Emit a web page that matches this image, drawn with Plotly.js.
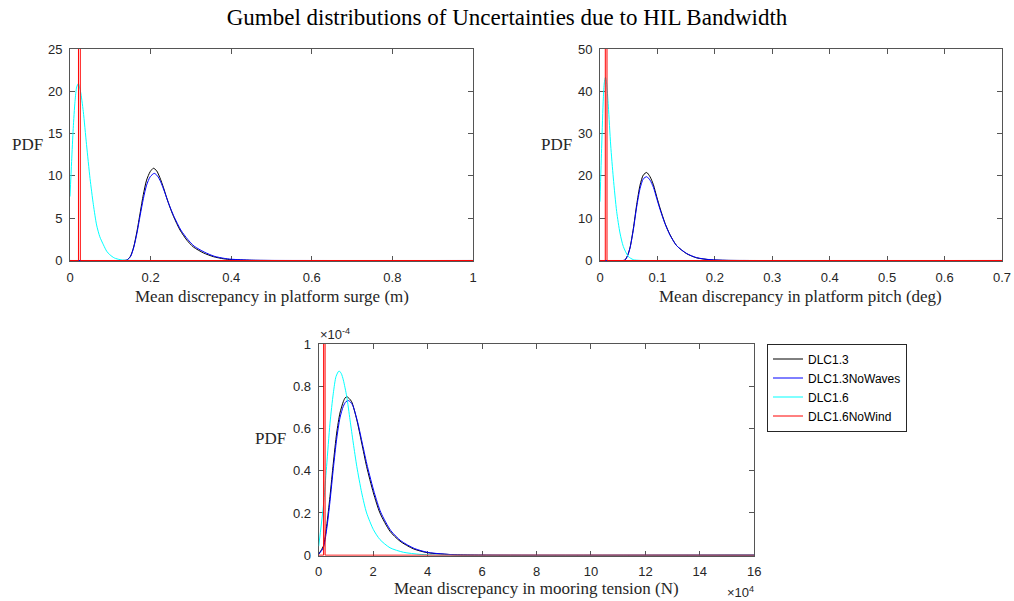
<!DOCTYPE html>
<html>
<head>
<meta charset="utf-8">
<script src="https://cdn.plot.ly/plotly-3.0.1.min.js"></script>
<style>html,body{margin:0;padding:0;background:#fff;}#chart{width:1014px;height:601px;}</style>
</head>
<body>
<div id="chart"></div>
<script>
// ---------- Surge (m) ----------
const surgeX13 = [0, 0.13, 0.141, 0.15, 0.158, 0.166, 0.174, 0.182, 0.190, 0.199, 0.207, 0.215, 0.223, 0.232, 0.240, 0.248, 0.257, 0.273, 0.290, 0.306, 0.331, 0.356, 0.381, 0.40, 0.45, 0.5, 1.0];
const surgeY13 = [0, 0, 0.05, 0.5, 1.6, 3.4, 5.6, 7.8, 9.5, 10.5, 10.9, 10.6, 9.8, 8.6, 7.4, 6.3, 5.2, 3.6, 2.4, 1.6, 0.9, 0.45, 0.2, 0.1, 0.02, 0, 0];
const surgeX13NW = [0, 0.13, 0.141, 0.15, 0.158, 0.166, 0.174, 0.182, 0.190, 0.199, 0.209, 0.217, 0.225, 0.234, 0.242, 0.250, 0.259, 0.275, 0.292, 0.308, 0.333, 0.358, 0.383, 0.40, 0.45, 0.5, 1.0];
const surgeY13NW = [0, 0, 0.05, 0.45, 1.5, 3.2, 5.3, 7.3, 8.9, 9.9, 10.3, 10.0, 9.3, 8.2, 7.1, 6.1, 5.1, 3.6, 2.5, 1.7, 1.0, 0.5, 0.25, 0.15, 0.04, 0.01, 0];
const surgeX16 = [0, 0.004, 0.008, 0.0124, 0.0166, 0.0207, 0.026, 0.033, 0.041, 0.0497, 0.058, 0.066, 0.074, 0.083, 0.091, 0.099, 0.11, 0.124, 0.136, 0.15, 1.0];
const surgeY16 = [7.56, 11.7, 15.6, 18.8, 20.5, 20.9, 20.0, 17.6, 13.7, 9.7, 6.6, 4.2, 2.8, 1.85, 1.1, 0.67, 0.3, 0.1, 0.03, 0.01, 0];
const surgeX16NW = [0, 0.021, 0.0233, 0.0256, 1.0];
const surgeY16NW = [0, 0, 1000, 0, 0];

// ---------- Pitch (deg) ----------
const pitchX13 = [0, 0.04, 0.0435, 0.048, 0.0522, 0.058, 0.0639, 0.0697, 0.0754, 0.0813, 0.0871, 0.093, 0.0987, 0.1045, 0.1132, 0.1219, 0.1335, 0.151, 0.168, 0.1915, 0.22, 0.26, 0.7];
const pitchY13 = [0, 0, 0.1, 1.2, 3.0, 7.5, 13.2, 17.8, 20.2, 20.8, 19.8, 17.9, 15.1, 12.4, 8.8, 6.1, 3.5, 1.6, 0.64, 0.17, 0.03, 0, 0];
const pitchX13NW = [0, 0.04, 0.0435, 0.048, 0.0522, 0.058, 0.0639, 0.0697, 0.0754, 0.0813, 0.0871, 0.093, 0.0987, 0.1045, 0.1132, 0.1219, 0.1335, 0.151, 0.168, 0.1915, 0.22, 0.26, 0.7];
const pitchY13NW = [0, 0, 0.1, 1.1, 2.9, 7.2, 12.7, 17.0, 19.3, 19.8, 19.0, 17.3, 14.7, 12.1, 8.7, 6.0, 3.5, 1.65, 0.68, 0.2, 0.04, 0, 0];
const pitchX16 = [0, 0.003, 0.0058, 0.0075, 0.0095, 0.0115, 0.0145, 0.0186, 0.0232, 0.029, 0.0348, 0.0406, 0.0493, 0.058, 0.07, 0.7];
const pitchY16 = [13.9, 27.3, 38.4, 42.0, 43.3, 42.0, 36.5, 27.3, 19.5, 11.6, 6.5, 3.3, 0.95, 0.2, 0.02, 0];
const pitchX16NW = [0, 0.0092, 0.0107, 0.0122, 0.7];
const pitchY16NW = [0, 0, 2000, 0, 0];

// ---------- Mooring tension (x in 1e4 N, PDF in 1e-4) ----------
const tenX13 = [0, 0.17, 0.29, 0.415, 0.537, 0.66, 0.78, 0.904, 0.97, 1.04, 1.12, 1.21, 1.40, 1.58, 1.76, 2.01, 2.25, 2.62, 2.99, 3.48, 3.99, 5, 6, 16];
const tenY13 = [0.005, 0.0425, 0.137, 0.279, 0.436, 0.578, 0.673, 0.727, 0.745, 0.75, 0.742, 0.727, 0.641, 0.531, 0.42, 0.295, 0.2, 0.113, 0.066, 0.03, 0.012, 0.002, 0, 0];
const tenX13NW = [0, 0.17, 0.29, 0.415, 0.537, 0.66, 0.78, 0.904, 1.0, 1.09, 1.17, 1.25, 1.43, 1.61, 1.79, 2.04, 2.28, 2.65, 3.02, 3.51, 4.02, 5, 6, 16];
const tenY13NW = [0.005, 0.035, 0.12, 0.255, 0.41, 0.55, 0.65, 0.705, 0.727, 0.732, 0.725, 0.71, 0.63, 0.525, 0.42, 0.297, 0.203, 0.116, 0.068, 0.032, 0.013, 0.002, 0, 0];
const tenX16 = [0, 0.17, 0.29, 0.415, 0.537, 0.636, 0.746, 0.83, 0.904, 1.03, 1.15, 1.27, 1.40, 1.58, 1.76, 2.01, 2.25, 2.62, 3.11, 3.72, 4.5, 16];
const tenY16 = [0.0425, 0.231, 0.42, 0.625, 0.767, 0.846, 0.8725, 0.86, 0.83, 0.751, 0.641, 0.531, 0.42, 0.295, 0.2, 0.121, 0.074, 0.035, 0.014, 0.004, 0.0005, 0];
const tenX16NW = [0, 0.18, 0.208, 0.235, 16];
const tenY16NW = [0, 0, 20, 0, 0];

const seriesNames = ['DLC1.3', 'DLC1.3NoWaves', 'DLC1.6', 'DLC1.6NoWind'];
const seriesColors = ['#000000', '#0000ff', '#00ffff', '#ff0000'];

const panels = [
  {xa: 'x', ya: 'y', data: [[surgeX13, surgeY13], [surgeX13NW, surgeY13NW], [surgeX16, surgeY16], [surgeX16NW, surgeY16NW]], legend: false},
  {xa: 'x2', ya: 'y2', data: [[pitchX13, pitchY13], [pitchX13NW, pitchY13NW], [pitchX16, pitchY16], [pitchX16NW, pitchY16NW]], legend: false},
  {xa: 'x3', ya: 'y3', data: [[tenX13, tenY13], [tenX13NW, tenY13NW], [tenX16, tenY16], [tenX16NW, tenY16NW]], legend: true}
];

const traces = [];
panels.forEach(p => {
  p.data.forEach((d, i) => {
    traces.push({
      type: 'scatter', mode: 'lines', x: d[0], y: d[1], xaxis: p.xa, yaxis: p.ya,
      name: seriesNames[i], showlegend: p.legend,
      line: {color: seriesColors[i], width: 1, shape: i === 3 ? 'linear' : 'spline', smoothing: 0.7},
      hoverinfo: 'skip'
    });
  });
});

const W = 1014, H = 601;
const axBase = {
  showgrid: false, zeroline: false, showline: true, linecolor: '#555555', linewidth: 1,
  mirror: 'ticks', ticks: 'inside', ticklen: 5, tickcolor: '#555555', tickwidth: 1,
  tickfont: {family: 'Liberation Sans, Arial, sans-serif', size: 13, color: '#262626'},
  automargin: false, fixedrange: true, ticklabelstandoff: 4, layer: 'below traces'
};
function ax(extra) { return Object.assign({}, axBase, extra); }

const serif = {family: 'Liberation Serif, Times New Roman, serif', size: 17, color: '#262626'};
const serifPDF = {family: 'Liberation Serif, Times New Roman, serif', size: 17, color: '#262626'};
const sans13 = {family: 'Liberation Sans, Arial, sans-serif', size: 13, color: '#262626'};
const ann = (x, y, text, opts) => Object.assign({xref: 'paper', yref: 'paper', x: x / W, y: 1 - y / H, text: text, showarrow: false, font: serif, xanchor: 'center', yanchor: 'middle'}, opts || {});

const layout = {
  width: W, height: H,
  margin: {l: 0, r: 0, t: 0, b: 0},
  paper_bgcolor: '#ffffff', plot_bgcolor: '#ffffff',
  title: {text: 'Gumbel distributions of Uncertainties due to HIL Bandwidth',
          font: {family: 'Liberation Serif, Times New Roman, serif', size: 23, color: '#000000'},
          x: 0.5, xanchor: 'center', xref: 'paper', y: 1 - 17 / H, yanchor: 'middle', yref: 'container'},
  xaxis: ax({domain: [70 / W, 473 / W], range: [0, 1], dtick: 0.2, tick0: 0, anchor: 'y'}),
  yaxis: ax({domain: [1 - 261 / H, 1 - 49 / H], range: [-0.06, 25], dtick: 5, tick0: 0, anchor: 'x'}),
  xaxis2: ax({domain: [600 / W, 1002 / W], range: [0, 0.7], dtick: 0.1, tick0: 0, anchor: 'y2'}),
  yaxis2: ax({domain: [1 - 261 / H, 1 - 49 / H], range: [-0.12, 50], dtick: 10, tick0: 0, anchor: 'x2'}),
  xaxis3: ax({domain: [318.7 / W, 754.3 / W], range: [0, 16], dtick: 2, tick0: 0, anchor: 'y3'}),
  yaxis3: ax({domain: [1 - 555.7 / H, 1 - 344 / H], range: [-0.0024, 1], dtick: 0.2, tick0: 0, anchor: 'x3'}),
  showlegend: true,
  legend: {x: 767 / W, y: 1 - 387.5 / H, xanchor: 'left', yanchor: 'middle', xref: 'paper', yref: 'paper',
           bgcolor: '#ffffff', bordercolor: '#262626', borderwidth: 1,
           font: {family: 'Liberation Sans, Arial, sans-serif', size: 12, color: '#000000'},
           tracegroupgap: 0},
  annotations: [
    ann(272, 296, 'Mean discrepancy in platform surge (m)'),
    ann(800, 296, 'Mean discrepancy in platform pitch (deg)'),
    ann(536, 588, 'Mean discrepancy in mooring tension (N)'),
    ann(27, 144, 'PDF', {font: serifPDF}),
    ann(556, 144, 'PDF', {font: serifPDF}),
    ann(270, 438, 'PDF', {font: serifPDF}),
    ann(318, 334, '×10<sup>-4</sup>', {xanchor: 'left', font: sans13}),
    ann(756, 592, '×10<sup>4</sup>', {xanchor: 'right', font: sans13})
  ]
};

Plotly.newPlot('chart', traces, layout, {staticPlot: true, displayModeBar: false});
</script>
</body>
</html>
